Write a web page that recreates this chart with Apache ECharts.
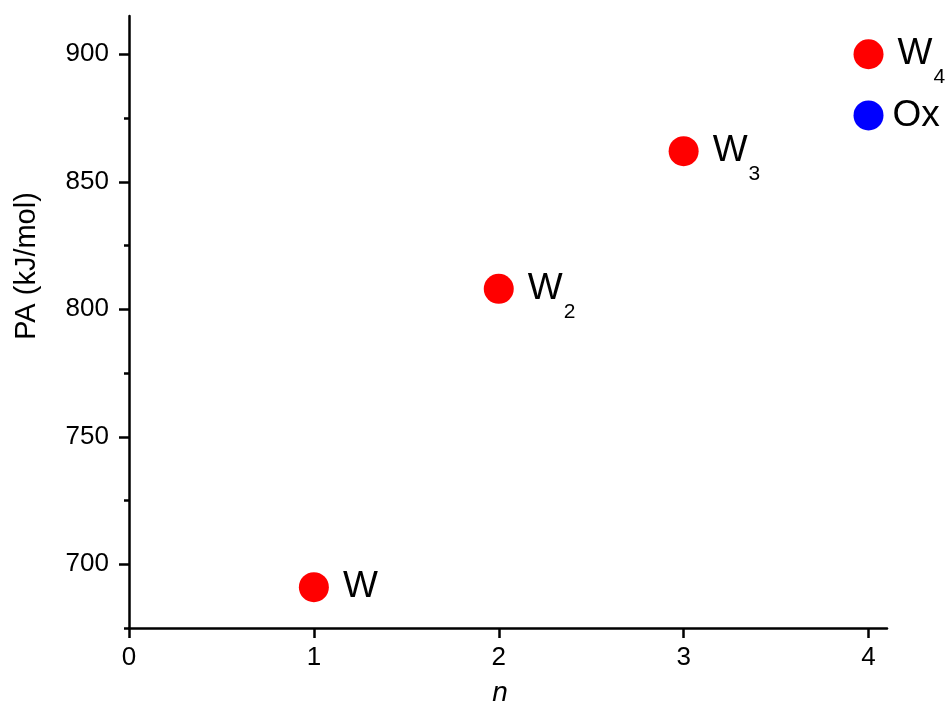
<!DOCTYPE html>
<html>
<head>
<meta charset="utf-8">
<script src="https://cdn.jsdelivr.net/npm/echarts@6/dist/echarts.min.js"></script>
<style>
  html, body { margin: 0; padding: 0; background: #fff; }
  #chart { width: 947px; height: 711px; }
</style>
</head>
<body>
<div id="chart"></div>
<script>
// water clusters W_n
const nValues = [1, 2, 3, 4]
const paValues = [691, 808, 862, 900]
const waterSubs = ['', '2', '3', '4']
// oxazole point
const oxN = [4]
const oxPA = [876]
const oxLabel = 'Ox'

const xTicks = [0, 1, 2, 3, 4]
const yTicks = [700, 750, 800, 850, 900]
const yMinorTicks = [675, 725, 775, 825, 875]

const font = 'Liberation Sans'
const chart = echarts.init(document.getElementById('chart'))

const baseY = {
  type: 'value',
  min: 675,
  max: 915,
  interval: 25,
  splitLine: { show: false }
}

const option = {
  animation: false,
  backgroundColor: '#fff',
  grid: { left: 129, right: 60, top: 16, bottom: 83 },
  xAxis: {
    type: 'value',
    min: 0,
    max: 4.1,
    interval: 1,
    splitLine: { show: false },
    axisLine: { lineStyle: { color: '#000', width: 2.5 } },
    axisTick: { inside: false, length: 10, lineStyle: { color: '#000', width: 2.5 }, customValues: xTicks },
    axisLabel: { color: '#000', fontSize: 26, fontFamily: font, margin: 17, customValues: xTicks }
  },
  yAxis: [
    Object.assign({}, baseY, {
      axisLine: { show: true, lineStyle: { color: '#000', width: 2.5 } },
      axisTick: { show: true, length: 10, lineStyle: { color: '#000', width: 2.5 }, customValues: yTicks },
      axisLabel: { color: '#000', fontSize: 26, fontFamily: font, margin: 20, customValues: yTicks }
    }),
    Object.assign({}, baseY, {
      position: 'left',
      axisLine: { show: false },
      axisTick: { show: true, length: 5, lineStyle: { color: '#000', width: 2.5 }, customValues: yMinorTicks },
      axisLabel: { show: false }
    })
  ],
  graphic: [
    {
      type: 'text',
      x: 27, y: 266,
      rotation: Math.PI / 2,
      style: { text: 'PA (kJ/mol)', fontSize: 29, fontFamily: font, fill: '#000', align: 'center', verticalAlign: 'middle' }
    },
    {
      type: 'text',
      x: 500, y: 693,
      style: { text: 'n', fontSize: 28, fontStyle: 'italic', fontFamily: font, fill: '#000', align: 'center', verticalAlign: 'middle' }
    }
  ],
  series: [
    {
      type: 'scatter',
      symbol: 'circle',
      symbolSize: 30,
      itemStyle: { color: '#ff0000', opacity: 1 },
      data: nValues.map((n, i) => [n, paValues[i]]),
      label: {
        show: true,
        position: 'right',
        distance: 14,
        color: '#000',
        formatter: p => {
          const sub = waterSubs[p.dataIndex]
          return sub ? `{m|W}{s|${sub}}` : '{m|W}'
        },
        rich: {
          m: { fontSize: 37, fontFamily: font, color: '#000' },
          s: { fontSize: 21, fontFamily: font, color: '#000', padding: [46, 0, 0, 1] }
        }
      }
    },
    {
      type: 'scatter',
      symbol: 'circle',
      symbolSize: 30,
      itemStyle: { color: '#0000ff', opacity: 1 },
      data: oxN.map((n, i) => [n, oxPA[i]]),
      label: {
        show: true,
        position: 'right',
        distance: 9,
        formatter: oxLabel,
        fontSize: 37,
        fontFamily: font,
        color: '#000'
      }
    }
  ]
}
chart.setOption(option)
</script>
</body>
</html>
